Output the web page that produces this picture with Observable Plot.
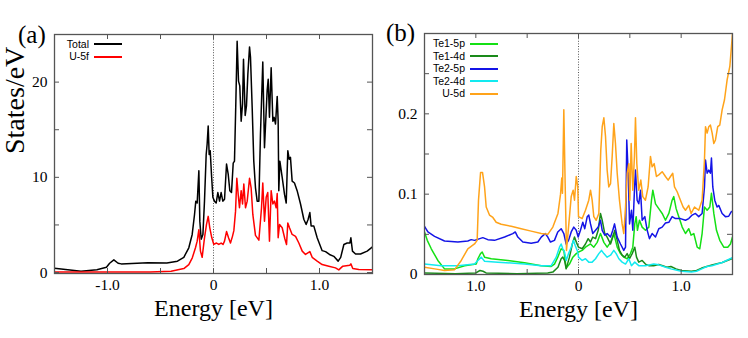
<!DOCTYPE html>
<html>
<head>
<meta charset="utf-8">
<script src="https://cdn.jsdelivr.net/npm/d3@7"></script>
<script src="https://cdn.jsdelivr.net/npm/@observablehq/plot@0.6"></script>
<style>
  html, body { margin: 0; padding: 0; background: #fff; }
  #wrap { position: relative; width: 748px; height: 338px; overflow: hidden; background: #fff; }
  .panel { position: absolute; top: 0; }
  .plab { position: absolute; font-family: "Liberation Serif", "Times New Roman", serif; font-size: 25px; line-height: 1; color: #000; }
  .leg { position: absolute; font-family: "Liberation Sans", Arial, sans-serif; font-size: 10.5px; line-height: 1; color: #000; }
  .legtxt { position: absolute; text-align: right; width: 60px; }
  .legline { position: absolute; height: 0; border-top-width: 2px; border-top-style: solid; width: 28px; }
</style>
</head>
<body>
<div id="wrap">
  <div class="panel" id="pa" style="left:0px"></div>
  <div class="panel" id="pb" style="left:374px"></div>
  <div class="plab" style="left:18px; top:22px">(a)</div>
  <div class="plab" style="left:386px; top:20px">(b)</div>
  <div id="legA"></div>
  <div id="legB"></div>
</div>
<script>
// ---------------- DATA ----------------
// Panel (a): total DOS and U-5f partial DOS, pairs [energy (eV), states/eV]
const totalDOS = [[-1.5,0.45],[-1.25,0.14],[-1.1,0.3],[-1.01,0.56],[-0.98,0.98],[-0.94,1.33],[-0.9,0.98],[-0.87,0.91],[-0.62,1.02],[-0.44,1.0],[-0.34,1.19],[-0.28,1.6],[-0.233,2.6],[-0.201,4.0],[-0.179,6.1],[-0.167,7.5],[-0.154,7.3],[-0.138,10.7],[-0.129,5.4],[-0.116,3.5],[-0.1,4.0],[-0.085,7.5],[-0.069,12.4],[-0.06,13.5],[-0.05,15.4],[-0.041,12.4],[-0.031,12.8],[-0.019,10.3],[-0.006,7.9],[0.009,7.5],[0.025,7.3],[0.041,8.4],[0.057,7.5],[0.072,8.4],[0.088,7.5],[0.104,7.7],[0.123,11.4],[0.139,10.3],[0.154,8.6],[0.17,8.4],[0.186,11.5],[0.198,11.7],[0.211,18.0],[0.223,24.3],[0.236,20.1],[0.248,19.6],[0.261,15.9],[0.274,17.7],[0.283,22.4],[0.299,16.5],[0.311,17.5],[0.324,20.8],[0.34,23.7],[0.349,22.6],[0.365,17.3],[0.38,11.7],[0.396,8.9],[0.412,7.5],[0.428,7.5],[0.443,14.5],[0.465,22.1],[0.481,13.1],[0.506,19.1],[0.516,20.3],[0.528,16.3],[0.544,21.5],[0.56,15.9],[0.572,16.3],[0.585,15.6],[0.601,18.5],[0.61,15.9],[0.616,8.6],[0.626,11.7],[0.648,10.0],[0.67,8.2],[0.686,7.3],[0.701,12.8],[0.714,11.9],[0.726,12.1],[0.742,9.6],[0.764,9.4],[0.789,8.6],[0.821,7.2],[0.852,5.6],[0.874,5.05],[0.893,5.6],[0.909,6.3],[0.921,4.9],[0.946,4.9],[0.978,3.65],[1.025,2.3],[1.057,2.2],[1.094,1.9],[1.135,1.7],[1.176,1.2],[1.2,1.6],[1.23,2.95],[1.261,3.1],[1.286,3.1],[1.296,3.65],[1.311,2.25],[1.34,1.95],[1.387,1.95],[1.45,2.25],[1.5,2.7]];
const u5fDOS = [[-1.5,0.05],[-1.0,0.05],[-0.6,0.07],[-0.4,0.14],[-0.28,0.42],[-0.233,0.84],[-0.2,1.55],[-0.17,2.6],[-0.154,3.3],[-0.138,4.5],[-0.123,2.25],[-0.107,1.6],[-0.085,3.65],[-0.066,5.05],[-0.05,5.9],[-0.035,4.7],[-0.016,3.65],[0.003,2.95],[0.028,3.1],[0.05,2.95],[0.072,3.1],[0.09,2.95],[0.104,3.3],[0.123,4.3],[0.142,3.65],[0.16,3.1],[0.179,3.8],[0.192,4.4],[0.208,6.45],[0.22,9.9],[0.233,8.2],[0.245,6.8],[0.261,8.6],[0.274,7.2],[0.286,9.3],[0.302,6.8],[0.318,7.5],[0.34,9.9],[0.355,8.9],[0.371,6.1],[0.396,3.9],[0.428,3.4],[0.453,6.8],[0.465,9.4],[0.481,5.4],[0.497,7.9],[0.512,8.4],[0.528,3.3],[0.544,8.6],[0.56,7.2],[0.575,7.5],[0.591,6.8],[0.601,8.3],[0.61,3.65],[0.623,5.05],[0.648,4.7],[0.673,3.55],[0.689,2.95],[0.701,5.2],[0.717,4.7],[0.742,4.0],[0.774,3.8],[0.805,3.1],[0.837,2.25],[0.868,1.9],[0.909,2.2],[0.931,1.6],[0.978,1.2],[1.025,0.84],[1.088,0.67],[1.151,0.49],[1.182,0.28],[1.22,0.67],[1.286,0.77],[1.296,0.91],[1.314,0.42],[1.371,0.32],[1.5,0.28]];

// Panel (b): partial DOS, pairs [energy (eV), states/eV]
const te1_5p = [[-1.5,0.053],[-1.473,0.0425],[-1.434,0.032],[-1.37,0.0175],[-1.305,0.007],[-1.207,0.007],[-1.11,0.011],[-0.996,0.013],[-0.98,0.0196],[-0.954,0.026],[-0.938,0.028],[-0.915,0.0216],[-0.85,0.0196],[-0.688,0.0175],[-0.526,0.0146],[-0.363,0.011],[-0.266,0.01],[-0.234,0.013],[-0.202,0.0216],[-0.169,0.032],[-0.143,0.03],[-0.12,0.008],[-0.088,0.013],[-0.055,0.0216],[-0.022,0.026],[0.0,0.028],[0.036,0.03],[0.068,0.034],[0.117,0.038],[0.149,0.034],[0.182,0.04],[0.214,0.051],[0.247,0.04],[0.279,0.034],[0.312,0.04],[0.344,0.051],[0.377,0.034],[0.409,0.026],[0.441,0.0216],[0.474,0.0196],[0.506,0.026],[0.529,0.034],[0.548,0.063],[0.562,0.072],[0.574,0.055],[0.594,0.0675],[0.62,0.059],[0.652,0.055],[0.685,0.059],[0.711,0.0925],[0.724,0.105],[0.75,0.088],[0.782,0.082],[0.815,0.076],[0.847,0.0675],[0.88,0.076],[0.912,0.0925],[0.928,0.097],[0.951,0.082],[0.977,0.072],[1.01,0.059],[1.042,0.051],[1.074,0.057],[1.097,0.049],[1.123,0.051],[1.156,0.034],[1.181,0.032],[1.204,0.051],[1.227,0.084],[1.253,0.08],[1.279,0.084],[1.295,0.101],[1.318,0.076],[1.344,0.055],[1.376,0.0425],[1.415,0.034],[1.454,0.034],[1.48,0.038],[1.5,0.0466]];
const te1_4d = [[-1.5,0.002],[-1.2,0.001],[-1.0,0.002],[-0.96,0.005],[-0.93,0.004],[-0.9,0.002],[-0.6,0.001],[-0.3,0.002],[-0.25,0.003],[-0.2,0.009],[-0.169,0.0196],[-0.153,0.0216],[-0.136,0.0175],[-0.12,0.007],[-0.088,0.0216],[-0.06,0.038],[-0.039,0.0466],[-0.02,0.04],[0.0,0.034],[0.036,0.032],[0.068,0.038],[0.094,0.0446],[0.117,0.0404],[0.139,0.0466],[0.166,0.0446],[0.192,0.055],[0.214,0.076],[0.231,0.0675],[0.256,0.051],[0.279,0.0466],[0.312,0.038],[0.334,0.0466],[0.354,0.055],[0.377,0.0425],[0.399,0.03],[0.425,0.024],[0.451,0.0216],[0.474,0.026],[0.497,0.0196],[0.523,0.026],[0.548,0.034],[0.565,0.0216],[0.587,0.0154],[0.62,0.0175],[0.652,0.013],[0.685,0.011],[0.733,0.011],[0.782,0.0125],[0.82,0.011],[0.86,0.009],[0.9,0.01],[0.95,0.007],[1.0,0.005],[1.1,0.004],[1.15,0.005],[1.2,0.008],[1.25,0.01],[1.3,0.012],[1.4,0.015],[1.5,0.02]];
const te2_5p = [[-1.5,0.06],[-1.467,0.053],[-1.402,0.0475],[-1.305,0.0417],[-1.175,0.0404],[-1.078,0.0417],[-1.045,0.0434],[-1.013,0.0425],[-0.932,0.0459],[-0.883,0.0434],[-0.818,0.0425],[-0.72,0.0466],[-0.64,0.0509],[-0.616,0.053],[-0.591,0.0466],[-0.542,0.0404],[-0.461,0.039],[-0.396,0.0404],[-0.363,0.0466],[-0.324,0.0509],[-0.299,0.0466],[-0.273,0.0404],[-0.234,0.0425],[-0.202,0.053],[-0.169,0.057],[-0.143,0.051],[-0.12,0.038],[-0.097,0.0425],[-0.071,0.053],[-0.046,0.059],[-0.022,0.055],[-0.003,0.0466],[0.019,0.055],[0.042,0.065],[0.061,0.057],[0.085,0.072],[0.1,0.074],[0.117,0.063],[0.139,0.051],[0.166,0.055],[0.192,0.059],[0.214,0.0675],[0.231,0.055],[0.256,0.049],[0.279,0.051],[0.312,0.0466],[0.334,0.055],[0.351,0.063],[0.377,0.0466],[0.409,0.038],[0.441,0.03],[0.458,0.034],[0.47,0.1675],[0.484,0.126],[0.497,0.063],[0.516,0.08],[0.529,0.055],[0.545,0.105],[0.555,0.13],[0.571,0.0925],[0.587,0.088],[0.604,0.105],[0.62,0.0675],[0.646,0.072],[0.669,0.055],[0.691,0.0446],[0.717,0.051],[0.75,0.0466],[0.782,0.057],[0.815,0.059],[0.847,0.064],[0.88,0.065],[0.912,0.072],[0.944,0.0696],[0.993,0.0696],[1.042,0.0675],[1.074,0.0696],[1.107,0.074],[1.139,0.076],[1.171,0.072],[1.204,0.076],[1.227,0.109],[1.237,0.1425],[1.253,0.126],[1.269,0.13],[1.285,0.126],[1.295,0.145],[1.308,0.109],[1.327,0.0925],[1.35,0.084],[1.366,0.086],[1.399,0.076],[1.431,0.072],[1.463,0.0725],[1.487,0.078],[1.5,0.079]];
const te2_4d = [[-1.5,0.013],[-1.337,0.011],[-1.175,0.011],[-1.013,0.013],[-0.98,0.0175],[-0.947,0.0216],[-0.915,0.0166],[-0.786,0.0154],[-0.526,0.013],[-0.363,0.011],[-0.266,0.011],[-0.217,0.0216],[-0.185,0.034],[-0.169,0.038],[-0.153,0.032],[-0.136,0.028],[-0.12,0.0175],[-0.097,0.026],[-0.071,0.034],[-0.049,0.0425],[-0.032,0.036],[-0.007,0.028],[0.0,0.0216],[0.036,0.0175],[0.068,0.0196],[0.1,0.0154],[0.133,0.0154],[0.166,0.0196],[0.198,0.026],[0.224,0.03],[0.247,0.026],[0.279,0.0216],[0.312,0.024],[0.344,0.03],[0.367,0.026],[0.393,0.0196],[0.425,0.0154],[0.458,0.013],[0.49,0.0196],[0.516,0.011],[0.548,0.0154],[0.587,0.011],[0.652,0.011],[0.733,0.013],[0.782,0.012],[0.85,0.009],[0.9,0.007],[1.0,0.004],[1.1,0.003],[1.15,0.004],[1.2,0.007],[1.25,0.01],[1.3,0.011],[1.4,0.015],[1.5,0.021]];
const u5dDOS = [[-1.5,0.009],[-1.4,0.007],[-1.305,0.005],[-1.207,0.006],[-1.142,0.0175],[-1.078,0.032],[-1.013,0.038],[-0.987,0.0425],[-0.974,0.0925],[-0.954,0.127],[-0.935,0.127],[-0.915,0.109],[-0.899,0.084],[-0.867,0.074],[-0.834,0.071],[-0.802,0.065],[-0.753,0.0625],[-0.655,0.06],[-0.558,0.057],[-0.461,0.054],[-0.363,0.051],[-0.299,0.05],[-0.25,0.059],[-0.2,0.076],[-0.175,0.1],[-0.163,0.12],[-0.156,0.101],[-0.143,0.205],[-0.13,0.113],[-0.117,0.03],[-0.097,0.059],[-0.071,0.097],[-0.052,0.105],[-0.039,0.0925],[-0.022,0.122],[-0.007,0.109],[0.0,0.072],[0.036,0.0696],[0.068,0.08],[0.1,0.0925],[0.117,0.105],[0.133,0.0925],[0.149,0.072],[0.172,0.0675],[0.198,0.076],[0.217,0.155],[0.231,0.184],[0.247,0.195],[0.263,0.172],[0.279,0.13],[0.295,0.109],[0.312,0.113],[0.328,0.147],[0.344,0.188],[0.36,0.163],[0.377,0.126],[0.399,0.0925],[0.425,0.063],[0.441,0.051],[0.458,0.084],[0.474,0.126],[0.49,0.138],[0.5,0.0925],[0.513,0.163],[0.529,0.105],[0.545,0.147],[0.555,0.195],[0.568,0.138],[0.587,0.105],[0.607,0.1175],[0.626,0.097],[0.652,0.0925],[0.678,0.109],[0.701,0.147],[0.717,0.134],[0.737,0.138],[0.759,0.122],[0.782,0.124],[0.815,0.128],[0.847,0.122],[0.873,0.1175],[0.896,0.122],[0.918,0.126],[0.935,0.109],[0.961,0.103],[0.993,0.0925],[1.019,0.084],[1.042,0.08],[1.074,0.086],[1.097,0.076],[1.13,0.084],[1.171,0.08],[1.204,0.0925],[1.227,0.1425],[1.237,0.184],[1.253,0.176],[1.269,0.184],[1.285,0.186],[1.302,0.176],[1.318,0.163],[1.334,0.1675],[1.356,0.184],[1.376,0.186],[1.399,0.205],[1.422,0.2175],[1.448,0.2425],[1.474,0.259],[1.49,0.284],[1.5,0.3]];

// Tick values and labels
const xMinorTicks = [-1, -0.5, 0, 0.5, 1];
const xLabelTicks = [-1, 0, 1];
const aXTickLabels = ["-1.0", "0", "1.0"];
const bXTickLabels = ["1.0", "0", "1.0"];
const aYMinorTicks = [0, 5, 10, 15, 20];
const aYLabelTicks = [0, 10, 20];
const aYTickLabels = ["0", "10", "20"];
const bYMinorTicks = [0, 0.05, 0.1, 0.15, 0.2, 0.25];
const bYLabelTicks = [0, 0.1, 0.2];
const bYTickLabels = ["0", "0.1", "0.2"];

// Legend entries
const legendA = [
  {name: "Total", data: totalDOS, color: "#000000"},
  {name: "U-5f", data: u5fDOS, color: "#ff0000"}
];
const legendB = [
  {name: "Te1-5p", data: te1_5p, color: "#14e014"},
  {name: "Te1-4d", data: te1_4d, color: "#1a8a1a"},
  {name: "Te2-5p", data: te2_5p, color: "#1414e6"},
  {name: "Te2-4d", data: te2_4d, color: "#12eaf0"},
  {name: "U-5d", data: u5dDOS, color: "#ffa31a"}
];

// ---------------- DRAW ----------------
const serif = "'Liberation Serif', 'Times New Roman', serif";
const frameColor = "#555";

function panel({width, height, mt, mr, mb, ml, yDomain, yMinor, yLabelTicks, yLabels, xLabels, series, ylabel}) {
  const iw = width - ml - mr, ih = height - mt - mb;
  const xFmt = new Map(xLabelTicks.map((t, i) => [t, xLabels[i]]));
  const yFmt = new Map(yLabelTicks.map((t, i) => [t, yLabels[i]]));
  const tl = 5;
  const marks = [
    Plot.ruleX([0], {stroke: "#444", strokeWidth: 0.9, strokeDasharray: "1,1.6"}),
    ...series.map(s => Plot.line(s.data, {stroke: s.color, strokeWidth: 1.5, clip: true})),
    // inward ticks on all four sides
    Plot.tickX(xMinorTicks, {x: d => d, insetTop: ih - tl, stroke: frameColor}),
    Plot.tickX(xMinorTicks, {x: d => d, insetBottom: ih - tl, stroke: frameColor}),
    Plot.tickY(yMinor, {y: d => d, insetRight: iw - tl, stroke: frameColor}),
    Plot.tickY(yMinor, {y: d => d, insetLeft: iw - tl, stroke: frameColor}),
    Plot.axisX(xLabelTicks, {tickSize: 0, tickPadding: 5, tickFormat: d => xFmt.get(d), label: null, fontSize: 15.5, fontFamily: serif}),
    Plot.axisY(yLabelTicks, {tickSize: 0, tickPadding: 7, tickFormat: d => yFmt.get(d), label: null, fontSize: 15.5, fontFamily: serif}),
    Plot.frame({stroke: frameColor, strokeWidth: 1.3}),
    Plot.text(["Energy [eV]"], {frameAnchor: "bottom", dy: 35, fontSize: 24, fontFamily: serif, lineAnchor: "middle", fill: "#000"})
  ];
  if (ylabel) {
    marks.push(Plot.text([ylabel], {frameAnchor: "left", dx: -39, rotate: -90, fontSize: 28, fontFamily: serif, fill: "#000"}));
  }
  return Plot.plot({
    width, height,
    marginTop: mt, marginRight: mr, marginBottom: mb, marginLeft: ml,
    style: {background: "transparent", overflow: "visible", fontFamily: serif, color: "#000"},
    x: {domain: [-1.5, 1.5]},
    y: {domain: yDomain},
    marks
  });
}

const chartA = panel({
  width: 374, height: 338, mt: 34, mr: 2, mb: 65, ml: 54,
  yDomain: [-0.1, 25], yMinor: aYMinorTicks, yLabelTicks: aYLabelTicks, yLabels: aYTickLabels,
  xLabels: aXTickLabels, series: legendA, ylabel: "States/eV"
});
const chartB = panel({
  width: 374, height: 338, mt: 33, mr: 16, mb: 64, ml: 50,
  yDomain: [0, 0.3], yMinor: bYMinorTicks, yLabelTicks: bYLabelTicks, yLabels: bYTickLabels,
  xLabels: bXTickLabels, series: legendB, ylabel: null
});
document.getElementById("pa").appendChild(chartA);
document.getElementById("pb").appendChild(chartB);

// Legends (inside plot areas, top-left)
function legend(el, items, textRight, lineLeft, top0, step) {
  items.forEach((it, i) => {
    const y = top0 + i * step;
    const t = document.createElement("div");
    t.className = "leg legtxt";
    t.style.left = (textRight - 60) + "px";
    t.style.top = (y - 5.5) + "px";
    t.textContent = it.name;
    el.appendChild(t);
    const l = document.createElement("div");
    l.className = "leg legline";
    l.style.left = lineLeft + "px";
    l.style.top = (y - 1) + "px";
    l.style.borderTopColor = it.color;
    el.appendChild(l);
  });
}
legend(document.getElementById("legA"), legendA, 89, 94, 44, 12.7);
legend(document.getElementById("legB"), legendB, 465, 470, 43.5, 12.6);
</script>
</body>
</html>
